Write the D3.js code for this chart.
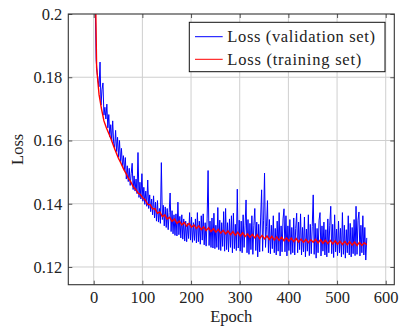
<!DOCTYPE html>
<html>
<head>
<meta charset="utf-8">
<script src="https://cdn.jsdelivr.net/npm/d3@7"></script>
<style>
  html, body { margin: 0; padding: 0; background: #fff; }
  svg { display: block; }
  text { font-family: "Liberation Serif", "Times New Roman", serif; fill: #222; }
</style>
</head>
<body>
<svg id="chart" width="399" height="327"></svg>
<script>
// ---- data ----
const xTicks = [0, 100, 200, 300, 400, 500, 600];
const yTicks = [0.12, 0.14, 0.16, 0.18, 0.2];
const yTickLabels = ["0.12", "0.14", "0.16", "0.18", "0.2"];
const seriesNames = ["Loss (validation set)", "Loss (training set)"];
const xLabel = "Epoch";
const yLabel = "Loss";

// validation loss, every 2 epochs starting at epoch 1
const valStart = 1, valStep = 2;
const valLoss = [
  0.2400, 0.2050, 0.1855, 0.1815, 0.1790, 0.1770, 0.1848, 0.1712, 0.1760, 0.1782, 0.1680, 0.1705, 0.1668, 0.1715, 0.1640,
  0.1682, 0.1612, 0.1650, 0.1598, 0.1662, 0.1590, 0.1578, 0.1632, 0.1565, 0.1610, 0.1548, 0.1600, 0.1532, 0.1575, 0.1520,
  0.1552, 0.1505, 0.1546, 0.1478, 0.1520, 0.1470, 0.1512, 0.1458, 0.1495, 0.1528, 0.1445, 0.1488, 0.1440, 0.1478, 0.1432,
  0.1562, 0.1420, 0.1468, 0.1415, 0.1495, 0.1408, 0.1452, 0.1398, 0.1440, 0.1392, 0.1475, 0.1385, 0.1428, 0.1375, 0.1415,
  0.1365, 0.1425, 0.1355, 0.1405, 0.1345, 0.1410, 0.1342, 0.1385, 0.1338, 0.1530, 0.1350, 0.1395, 0.1330, 0.1390, 0.1325,
  0.1385, 0.1318, 0.1372, 0.1434, 0.1312, 0.1378, 0.1305, 0.1365, 0.1300, 0.1368, 0.1298, 0.1405, 0.1302, 0.1360, 0.1292,
  0.1365, 0.1288, 0.1352, 0.1282, 0.1345, 0.1280, 0.1338, 0.1290, 0.1372, 0.1285, 0.1358, 0.1278, 0.1340, 0.1284, 0.1352,
  0.1276, 0.1372, 0.1280, 0.1345, 0.1272, 0.1362, 0.1285, 0.1368, 0.1270, 0.1340, 0.1266, 0.1352, 0.1505, 0.1268, 0.1345,
  0.1262, 0.1355, 0.1260, 0.1370, 0.1258, 0.1332, 0.1262, 0.1388, 0.1255, 0.1348, 0.1252, 0.1340, 0.1265, 0.1375, 0.1250,
  0.1385, 0.1255, 0.1340, 0.1248, 0.1352, 0.1262, 0.1362, 0.1245, 0.1370, 0.1258, 0.1335, 0.1252, 0.1446, 0.1260, 0.1348,
  0.1250, 0.1345, 0.1245, 0.1365, 0.1262, 0.1330, 0.1412, 0.1245, 0.1350, 0.1240, 0.1338, 0.1255, 0.1362, 0.1240, 0.1332,
  0.1385, 0.1252, 0.1342, 0.1232, 0.1335, 0.1248, 0.1355, 0.1444, 0.1250, 0.1348, 0.1497, 0.1262, 0.1328, 0.1410, 0.1245,
  0.1350, 0.1242, 0.1332, 0.1258, 0.1362, 0.1245, 0.1322, 0.1238, 0.1345, 0.1250, 0.1372, 0.1235, 0.1330, 0.1248, 0.1352,
  0.1384, 0.1248, 0.1362, 0.1235, 0.1330, 0.1252, 0.1350, 0.1240, 0.1325, 0.1245, 0.1355, 0.1238, 0.1322, 0.1370, 0.1245,
  0.1342, 0.1255, 0.1368, 0.1238, 0.1325, 0.1248, 0.1358, 0.1232, 0.1320, 0.1250, 0.1365, 0.1236, 0.1335, 0.1242, 0.1328,
  0.1428, 0.1240, 0.1338, 0.1228, 0.1322, 0.1245, 0.1348, 0.1372, 0.1235, 0.1330, 0.1250, 0.1342, 0.1238, 0.1318, 0.1232,
  0.1352, 0.1245, 0.1332, 0.1392, 0.1242, 0.1335, 0.1230, 0.1365, 0.1248, 0.1320, 0.1236, 0.1345, 0.1245, 0.1322, 0.1232,
  0.1372, 0.1240, 0.1332, 0.1228, 0.1318, 0.1245, 0.1362, 0.1238, 0.1338, 0.1232, 0.1325, 0.1242, 0.1350, 0.1236, 0.1392,
  0.1240, 0.1348, 0.1374, 0.1235, 0.1332, 0.1245, 0.1362, 0.1238, 0.1325, 0.1222, 0.1292
];

// training loss, every 5 epochs starting at epoch 1
const trainStart = 1, trainStep = 5;
const trainLoss = [
  0.2350, 0.1830, 0.1745, 0.1700, 0.1662, 0.1640, 0.1622, 0.1603, 0.1582, 0.1562,
  0.1543, 0.1528, 0.1511, 0.1497, 0.1481, 0.1470, 0.1454, 0.1446, 0.1434, 0.1429,
  0.1418, 0.1412, 0.1398, 0.1397, 0.1384, 0.1384, 0.1370, 0.1374, 0.1359, 0.1365,
  0.1352, 0.1357, 0.1344, 0.1352, 0.1338, 0.1345, 0.1333, 0.1341, 0.1329, 0.1338,
  0.1326, 0.1333, 0.1322, 0.1330, 0.1318, 0.1327, 0.1315, 0.1324, 0.1312, 0.1321,
  0.1310, 0.1319, 0.1307, 0.1316, 0.1305, 0.1314, 0.1302, 0.1312, 0.1300, 0.1310,
  0.1298, 0.1308, 0.1296, 0.1305, 0.1294, 0.1303, 0.1292, 0.1302, 0.1290, 0.1300,
  0.1289, 0.1298, 0.1287, 0.1297, 0.1285, 0.1295, 0.1284, 0.1294, 0.1283, 0.1292,
  0.1282, 0.1291, 0.1280, 0.1290, 0.1279, 0.1288, 0.1278, 0.1287, 0.1277, 0.1286,
  0.1278, 0.1287, 0.1276, 0.1286, 0.1275, 0.1285, 0.1274, 0.1284, 0.1273, 0.1283,
  0.1272, 0.1282, 0.1271, 0.1281, 0.1270, 0.1280, 0.1269, 0.1279, 0.1268, 0.1278,
  0.1268, 0.1277, 0.1270
];

// ---- layout ----
const plot = { left: 68.3, right: 394.3, top: 14, bottom: 284.7 };
const fontSize = 16.5;

const x = d3.scaleLinear().domain([-52.2, 617.6]).range([plot.left, plot.right]);
const y = d3.scaleLinear().domain([0.1144, 0.2]).range([plot.bottom, plot.top]);

const svg = d3.select("#chart");

svg.append("defs").append("clipPath").attr("id", "clip")
  .append("rect")
  .attr("x", plot.left).attr("y", plot.top)
  .attr("width", plot.right - plot.left).attr("height", plot.bottom - plot.top);

// grid
const grid = svg.append("g").attr("class", "grid");
grid.selectAll("line.gx").data(xTicks).join("line")
  .attr("x1", d => x(d)).attr("x2", d => x(d))
  .attr("y1", plot.top).attr("y2", plot.bottom)
  .attr("stroke", "#cfcfcf").attr("stroke-width", 1);
grid.selectAll("line.gy").data(yTicks.filter(v => v < 0.2)).join("line")
  .attr("x1", plot.left).attr("x2", plot.right)
  .attr("y1", d => y(d)).attr("y2", d => y(d))
  .attr("stroke", "#cfcfcf").attr("stroke-width", 1);

// lines
const valData = valLoss.map((v, i) => [valStart + valStep * i, v]);
const trainData = trainLoss.map((v, i) => [trainStart + trainStep * i, v]);
const line = d3.line().x(d => x(d[0])).y(d => y(d[1]));

const lines = svg.append("g").attr("clip-path", "url(#clip)");
lines.append("path").datum(valData)
  .attr("d", line).attr("fill", "none")
  .attr("stroke", "#0000ff").attr("stroke-width", 1);
lines.append("path").datum(trainData)
  .attr("d", line).attr("fill", "none")
  .attr("stroke", "#ff0000").attr("stroke-width", 1.4);

// axes
function styleAxis(g) {
  g.select(".domain").remove();
  g.selectAll(".tick line").attr("stroke", "#555").attr("stroke-width", 1);
  g.selectAll("text").attr("font-size", fontSize).attr("fill", "#222")
    .attr("font-family", "'Liberation Serif', serif");
}
svg.append("g").attr("transform", `translate(0,${plot.bottom})`)
  .call(d3.axisBottom(x).tickValues(xTicks).tickSizeInner(-4).tickSizeOuter(0).tickPadding(7))
  .call(styleAxis);
svg.append("g").attr("transform", `translate(0,${plot.top})`)
  .call(d3.axisTop(x).tickValues(xTicks).tickSizeInner(-4).tickSizeOuter(0).tickFormat(""))
  .call(styleAxis);
svg.append("g").attr("transform", `translate(${plot.left},0)`)
  .call(d3.axisLeft(y).tickValues(yTicks).tickSizeInner(-4).tickSizeOuter(0).tickPadding(6)
    .tickFormat((d, i) => yTickLabels[i]))
  .call(styleAxis);
svg.append("g").attr("transform", `translate(${plot.right},0)`)
  .call(d3.axisRight(y).tickValues(yTicks).tickSizeInner(-4).tickSizeOuter(0).tickFormat(""))
  .call(styleAxis);

// frame
svg.append("rect")
  .attr("x", plot.left).attr("y", plot.top)
  .attr("width", plot.right - plot.left).attr("height", plot.bottom - plot.top)
  .attr("fill", "none").attr("stroke", "#333").attr("stroke-width", 1.1);

// axis labels
svg.append("text")
  .attr("x", (plot.left + plot.right) / 2).attr("y", 321.5)
  .attr("text-anchor", "middle").attr("font-size", fontSize)
  .text(xLabel);
svg.append("text")
  .attr("transform", `translate(22.5,${(plot.top + plot.bottom) / 2}) rotate(-90)`)
  .attr("text-anchor", "middle").attr("font-size", fontSize)
  .text(yLabel);

// legend
const legend = svg.append("g");
legend.append("rect")
  .attr("x", 189.3).attr("y", 22.3).attr("width", 195.7).attr("height", 49.4)
  .attr("fill", "#fff").attr("stroke", "#111").attr("stroke-width", 1);
const legendColors = ["#0000ff", "#ff0000"];
const legendRows = [36.7, 59.3];
const legendWidths = [147.7, 134];
seriesNames.forEach((name, i) => {
  legend.append("line")
    .attr("x1", 195).attr("x2", 222.7)
    .attr("y1", legendRows[i]).attr("y2", legendRows[i])
    .attr("stroke", legendColors[i]).attr("stroke-width", 1);
  legend.append("text")
    .attr("x", 227.3).attr("y", legendRows[i] + 5.3)
    .attr("font-size", fontSize)
    .attr("textLength", legendWidths[i]).attr("lengthAdjust", "spacing")
    .text(name);
});
</script>
</body>
</html>
